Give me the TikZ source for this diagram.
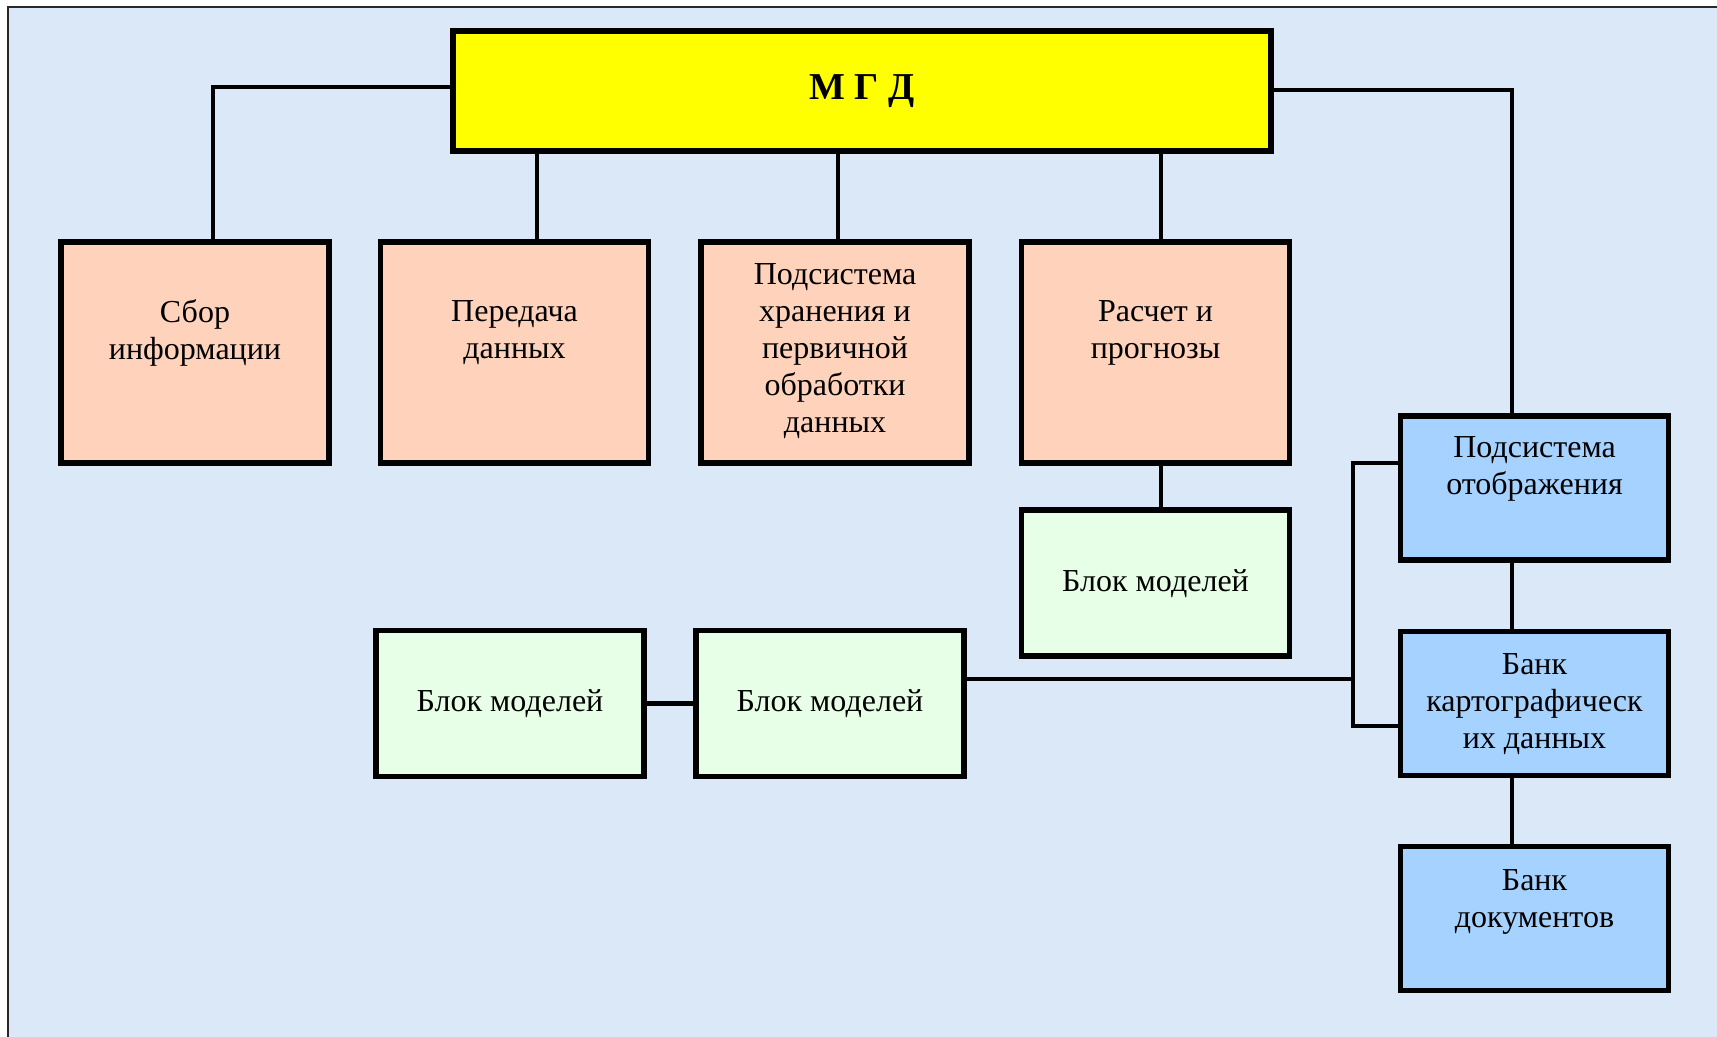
\documentclass[tikz,border=0pt]{standalone}
\usepackage{fontspec}
\setmainfont{Liberation Serif}
\usetikzlibrary{calc}

\definecolor{paper}{RGB}{219,232,247}
\definecolor{peach}{RGB}{255,210,188}
\definecolor{mint}{RGB}{230,255,230}
\definecolor{sky}{RGB}{166,210,255}
\definecolor{lemon}{RGB}{255,255,0}
\definecolor{frame}{RGB}{40,40,40}

\begin{document}
\begin{tikzpicture}[x=0.5pt,y=-0.5pt,
  box/.style={draw=black, line width=2.8pt, inner sep=0pt,
    minimum width=134pt, minimum height=#1},
  box/.default=110.5pt,
  peachbox/.style={box, fill=peach},
  mintbox/.style={box=73pt, fill=mint},
  skybox/.style={box=72pt, fill=sky},
  label/.style={font=\fontsize{16pt}{18.5pt}\selectfont, align=center, inner sep=0pt},
  link/.style={draw=black, line width=2.2pt, line cap=rect}]

% page and textured sheet
\useasboundingbox (0,0) rectangle (1717,1037);
\fill[white] (0,0) rectangle (1717,1037);
\fill[paper] (8,7) rectangle (1717,1037);
\draw[frame, line width=0.8pt] (8,1037) -- (8,7) -- (1717,7);

% root
\node[draw=black, line width=2.8pt, fill=lemon, inner sep=0pt,
      minimum width=409pt, minimum height=60pt] (mgd) at (862,91) {};
\node[font=\bfseries\fontsize{19pt}{22pt}\selectfont] (mgdtxt) at (862,91) {М Г Д};

% first level
\node[peachbox] (sbor) at (195,352.5) {};
\node[peachbox] (pered) at (514.5,352.5) {};
\node[peachbox] (hran) at (835,352.5) {};
\node[peachbox] (rasch) at (1155.5,352.5) {};

\node[label] (sbortxt) at (195,333) {Сбор\\информации};
\node[label] (peredtxt) at (514.5,333) {Передача\\данных};
\node[label] (hrantxt) at (835,351) {Подсистема\\хранения и\\первичной\\обработки\\данных};
\node[label] (raschtxt) at (1155.5,333) {Расчет и\\прогнозы};

% model blocks
\node[mintbox] (blok1) at (1155.5,583) {};
\node[mintbox] (blok2) at (510,703.5) {};
\node[mintbox] (blok3) at (830,703.5) {};
\node[label] (blok1txt) at (1155.5,584) {Блок моделей};
\node[label] (blok2txt) at (510,704) {Блок моделей};
\node[label] (blok3txt) at (830,704) {Блок моделей};

% display subsystem
\node[skybox] (otob) at (1534.5,488) {};
\node[skybox] (kart) at (1534.5,703.5) {};
\node[skybox] (doc) at (1534.5,918.5) {};
\node[label] (otobtxt) at (1534.5,469) {Подсистема\\отображения};
\node[label] (karttxt) at (1534.5,704) {Банк\\картографическ\\их данных};
\node[label] (doctxt) at (1534.5,902) {Банк\\документов};

% junction columns and rows
\coordinate (c1) at (213,87);
\coordinate (c2) at (537,0);
\coordinate (c3) at (838,0);
\coordinate (c4) at (1161,0);
\coordinate (cr) at (1512,90);
\coordinate (br) at (1353,463);
\coordinate (bb) at (1353,726);
\coordinate (mr) at (0,679);

% connectors
\draw[link] (mgd.west |- c1) -| (sbor.north -| c1);
\draw[link] (mgd.south -| c2) -- (pered.north -| c2);
\draw[link] (mgd.south -| c3) -- (hran.north -| c3);
\draw[link] (mgd.south -| c4) -- (rasch.north -| c4);
\draw[link] (mgd.east |- cr) -| (otob.north -| cr);
\draw[link] (rasch.south -| c4) -- (blok1.north -| c4);
\draw[link] (otob.south -| cr) -- (kart.north -| cr);
\draw[link] (kart.south -| cr) -- (doc.north -| cr);
\draw[link] (blok2.east) -- (blok3.west);
\draw[link] (blok3.east |- mr) -- (br |- mr);
\draw[link] (otob.west |- br) -- (br) -- (bb) -- (kart.west |- bb);

\end{tikzpicture}
\end{document}
